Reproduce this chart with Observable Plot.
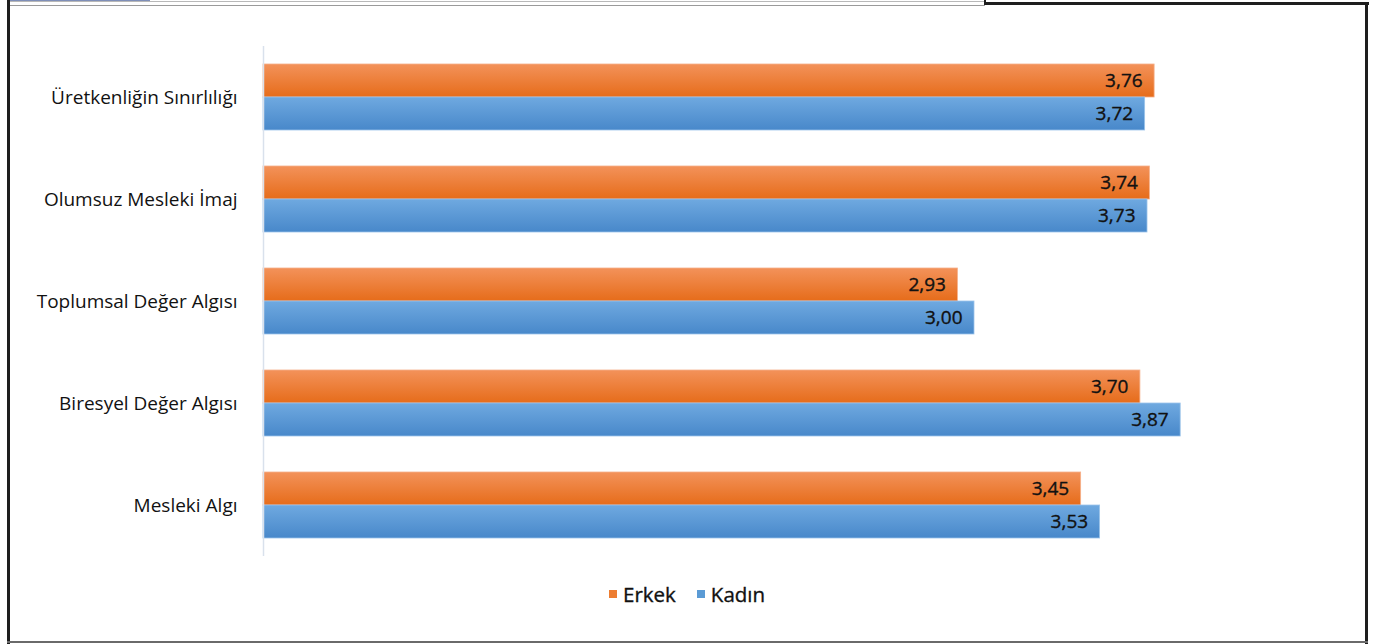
<!DOCTYPE html>
<html><head><meta charset="utf-8">
<script src="https://cdn.jsdelivr.net/npm/d3@7"></script>
<script src="https://cdn.jsdelivr.net/npm/@observablehq/plot@0.6"></script>
<style>
body{margin:0;background:#fff;}
#wrap{position:relative;width:1373px;height:644px;overflow:hidden;font-family:"Open Sans",sans-serif;background:#fff;}
.b{position:absolute;}
#chart{position:absolute;left:0;top:0;}
#legend{position:absolute;left:609px;top:580px;display:flex;align-items:center;font-size:20.5px;color:#111;-webkit-text-stroke:0.35px #111;}
#legend .sw{width:8px;height:8px;display:inline-block;margin-right:6px;}
#legend .it{display:flex;align-items:center;margin-right:21px;}
</style></head><body>
<div id="wrap">
  <div class="b" style="left:10px;top:0;width:140px;height:2px;background:#7f8fb8"></div>
  <div class="b" style="left:10px;top:1px;width:975px;height:1px;background:#b8b8b8"></div>
  <div class="b" style="left:10px;top:5px;width:975px;height:1px;background:#9a9a9a"></div>
  <div class="b" style="left:984px;top:2px;width:385px;height:3px;background:#1e1e1e"></div>
  <div class="b" style="left:984px;top:0;width:2px;height:5px;background:#1e1e1e"></div>
  <div class="b" style="left:7px;top:0;width:3px;height:644px;background:#1e1e1e"></div>
  <div class="b" style="left:1365px;top:2px;width:3px;height:642px;background:#1e1e1e"></div>
  <div class="b" style="left:7px;top:641px;width:1361px;height:2px;background:#6a6a6a"></div>
  <div id="chart"></div>
  <div id="legend"></div>
</div>
<script>
const categories = ["Üretkenliğin Sınırlılığı","Olumsuz Mesleki İmaj","Toplumsal Değer Algısı","Biresyel Değer Algısı","Mesleki Algı"];
const series = ["Erkek","Kadın"];
const erkek = [3.76,3.74,2.93,3.70,3.45];
const kadin = [3.72,3.73,3.00,3.87,3.53];

const data = [];
categories.forEach((c,i)=>{
  data.push({category:c, series:"Erkek", value:erkek[i]});
  data.push({category:c, series:"Kadın", value:kadin[i]});
});
const fmt = v => v.toFixed(2).replace(".", ",");

const chart = Plot.plot({
  width: 1373,
  height: 644,
  marginLeft: 263,
  marginRight: 162,
  marginTop: 46,
  marginBottom: 88,
  style: {fontFamily: "'Open Sans', sans-serif", background: "transparent", overflow: "visible"},
  x: {domain: [0, 4], axis: null},
  fy: {domain: categories, padding: 0, axis: null},
  y: {domain: series, paddingInner: 0, paddingOuter: 0.54, axis: null},
  marks: [
    Plot.barX(data.filter(d=>d.series==="Erkek"), {x: "value", y: "series", fy: "category", fill: "url(#gE)", stroke: "#f6b08a", strokeWidth: 0.8}),
    Plot.barX(data.filter(d=>d.series==="Kadın"), {x: "value", y: "series", fy: "category", fill: "url(#gK)", stroke: "#9cc4ea", strokeWidth: 0.8}),
    Plot.ruleX([0], {stroke: "#d9e1ec", strokeWidth: 1.5}),
    Plot.text(data, {x: "value", y: "series", fy: "category", text: d => fmt(d.value), textAnchor: "end", dx: -12, fontSize: 19, fill: "#111", stroke: "#111", strokeWidth: 0.35}),
    Plot.axisFy({anchor: "left", label: null, tickSize: 0, tickPadding: 26, fontSize: 19, fill: "#111", stroke: "#111", strokeWidth: 0.35})
  ]
});

const ns = "http://www.w3.org/2000/svg";
const svg = chart.tagName.toLowerCase() === "svg" ? chart : chart.querySelector("svg");
const defs = document.createElementNS(ns, "defs");
defs.innerHTML = '<linearGradient id="gE" x1="0" y1="0" x2="0" y2="1"><stop offset="0" stop-color="#f3925a"/><stop offset="1" stop-color="#e66c1a"/></linearGradient>' +
  '<linearGradient id="gK" x1="0" y1="0" x2="0" y2="1"><stop offset="0" stop-color="#6fa9e0"/><stop offset="1" stop-color="#4888ca"/></linearGradient>';
svg.insertBefore(defs, svg.firstChild);
document.getElementById("chart").appendChild(chart);

const legend = document.getElementById("legend");
const cols = {"Erkek":"#ed7d31","Kadın":"#5b9bd5"};
series.forEach(s=>{
  const it = document.createElement("span"); it.className="it";
  const sw = document.createElement("span"); sw.className="sw"; sw.style.background = cols[s];
  it.appendChild(sw); it.appendChild(document.createTextNode(s));
  legend.appendChild(it);
});
</script>
</body></html>
